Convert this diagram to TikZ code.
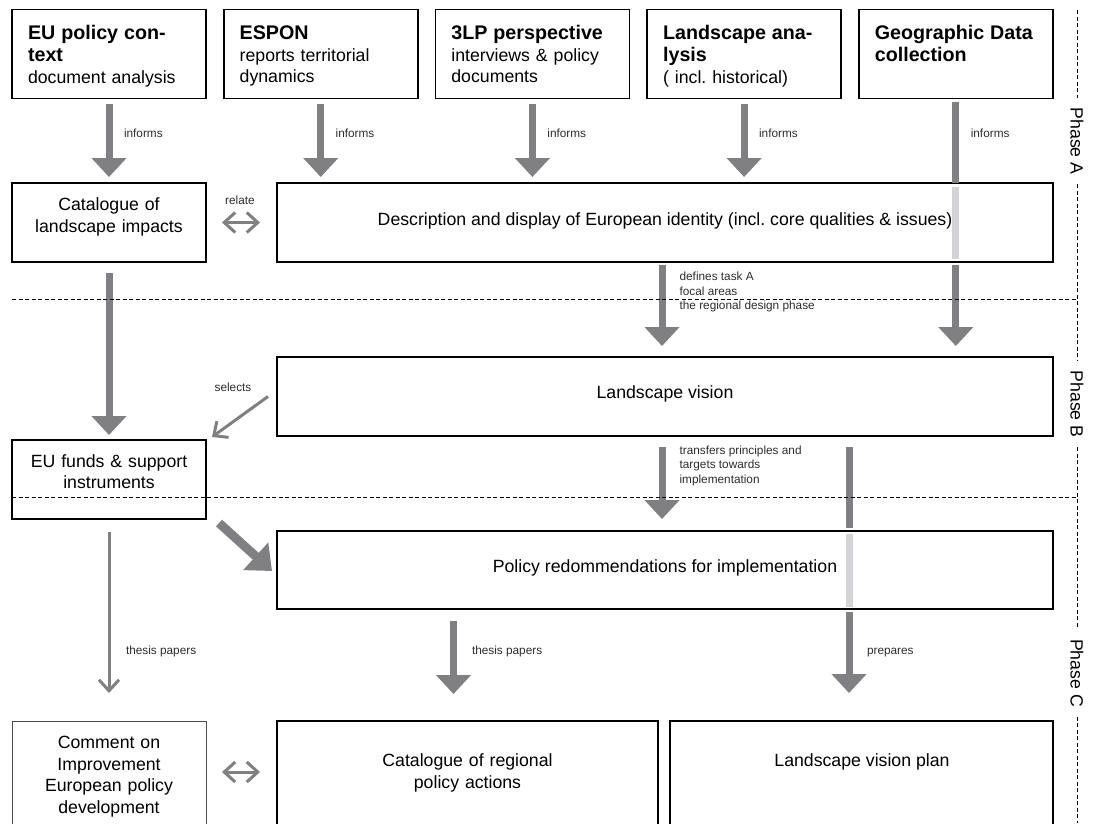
\documentclass[tikz,border=0pt]{standalone}
\usepackage{fontspec}
\setmainfont{Liberation Sans}
\usetikzlibrary{arrows.meta,calc}
\definecolor{arrowgray}{RGB}{128,128,131}
\definecolor{lightbar}{RGB}{212,212,214}
\definecolor{lblcol}{RGB}{45,45,45}
\newcommand\ttlfont{\fontsize{19.7pt}{22pt}\selectfont\bfseries}
\newcommand\bodyfont{\fontsize{17.7pt}{21.5pt}\selectfont\mdseries}
\newcommand\lblfont{\fontsize{11.8pt}{14.4pt}\selectfont}
\begin{document}
\begin{tikzpicture}[x=1pt,y=-1pt,
  every node/.style={inner sep=0pt, outer sep=0pt},
  topbox/.style={draw=black, line width=1.8pt, fill=white, anchor=north west, minimum width=194pt, minimum height=89pt},
  midbox/.style={draw=black, line width=1.5pt, fill=white, anchor=north west, minimum height=79pt},
  combox/.style={draw=black!70, line width=1pt, fill=white, anchor=north west, minimum height=110pt},
  endbox/.style={draw=black, line width=2.6pt, fill=white, anchor=north west, minimum height=110pt},
  toptext/.style={anchor=base west, text width=182pt, align=left, font=\bodyfont},
  ctext/.style={anchor=base, text width=190pt, align=center, font=\bodyfont},
  wtext/.style={anchor=base, align=center, font=\bodyfont},
  lbl/.style={font=\lblfont, text=lblcol, align=left},
  bigarrow/.style={draw=arrowgray, line width=7pt, -{Triangle[width=34pt,length=19pt]}},
  bigbar/.style={draw=arrowgray, line width=7pt},
  diagarrow/.style={draw=arrowgray, line width=9pt, -{Triangle[width=36pt,length=22pt]}},
  thinarrow/.style={draw=arrowgray, line width=3pt, -{Straight Barb[width=20pt,length=11pt]}},
  dblarrow/.style={draw=arrowgray, line width=3pt, {Straight Barb[width=20pt,length=11pt]}-{Straight Barb[width=20pt,length=11pt]}},
  dashln/.style={draw=black, line width=0.9pt, dash pattern=on 4pt off 2.5pt},
  phase/.style={font=\bodyfont, rotate=-90, inner xsep=10pt, inner ysep=0pt}
]
\useasboundingbox (0,0) rectangle (1094,823);
\fill[white] (0,0) rectangle (1094,823);

% boxes
\node[topbox] (b1) at (12,9.5) {};
\node[topbox] (b2) at (223.7,9.5) {};
\node[topbox] (b3) at (435.4,9.5) {};
\node[topbox] (b4) at (647.1,9.5) {};
\node[topbox] (b5) at (858.8,9.5) {};
\node[midbox, minimum width=194pt] (cat) at (12,183) {};
\node[midbox, minimum width=776pt] (desc) at (277,183) {};
\node[midbox, minimum width=776pt] (lv) at (277,357) {};
\node[midbox, minimum width=194pt] (ef) at (12,440) {};
\node[midbox, minimum width=776pt, minimum height=78pt] (pol) at (277,531) {};
\node[combox, minimum width=194pt] (com) at (12,721) {};
\node[endbox, minimum width=381pt] (creg) at (277,721) {};
\node[endbox, minimum width=383pt] (plan) at (670,721) {};

% top box texts
\node[toptext] (t1) at ([shift={(16,30)}]b1.north west) {\ttlfont EU policy con-\\\ttlfont text\\\bodyfont document analysis};
\node[toptext] (t2) at ([shift={(16,30)}]b2.north west) {\ttlfont ESPON\\\bodyfont reports territorial\\dynamics};
\node[toptext] (t3) at ([shift={(16,30)}]b3.north west) {\ttlfont 3LP perspective\\\bodyfont interviews \& policy\\documents};
\node[toptext] (t4) at ([shift={(16,30)}]b4.north west) {\ttlfont Landscape ana-\\\ttlfont lysis\\\bodyfont ( incl.\ historical)};
\node[toptext] (t5) at ([shift={(16,30)}]b5.north west) {\ttlfont Geographic Data\\\ttlfont collection};

% other texts
\node[ctext] (tcat) at (109,210.5) {Catalogue of\\landscape impacts};
\node[wtext] (tdesc) at (665,225) {Description and display of European identity (incl.\ core qualities \& issues)};
\node[wtext] (tlv) at (665,398) {Landscape vision};
\node[ctext] (tef) at (109,467) {EU funds \& support\\instruments};
\node[wtext] (tpol) at (665,572) {Policy redommendations for implementation};
\node[ctext] (tcom) at (109,748.5) {Comment on\\Improvement\\European policy\\development};
\node[ctext] (tcreg) at (467.5,766.5) {Catalogue of regional\\policy actions};
\node[wtext] (tplan) at (862,766.5) {Landscape vision plan};

% arrows from top boxes
\draw[bigarrow, shorten <=5.5pt, shorten >=6pt] (b1.south) -- (cat.north);
\draw[bigarrow, shorten <=5.5pt, shorten >=6pt] (b2.south) -- (b2.south |- desc.north);
\draw[bigarrow, shorten <=5.5pt, shorten >=6pt] (b3.south) -- (b3.south |- desc.north);
\draw[bigarrow, shorten <=5.5pt, shorten >=6pt] (b4.south) -- (b4.south |- desc.north);
\draw[bigbar, shorten <=3.5pt] (b5.south) -- (b5.south |- desc.north);
\coordinate (g1) at (b5.south |- desc.north);
\coordinate (g2) at (b5.south |- desc.south);
\fill[lightbar] ([shift={(-3.5,4)}]g1) rectangle ([shift={(3.5,-3)}]g2);
\draw[bigarrow, shorten <=3pt, shorten >=11pt] (g2) -- (b5.south |- lv.north);

% labels informs
\node[lbl, anchor=base west] (i1) at (124,137) {informs};
\node[lbl, anchor=base west] (i2) at (335.7,137) {informs};
\node[lbl, anchor=base west] (i3) at (547.4,137) {informs};
\node[lbl, anchor=base west] (i4) at (759.1,137) {informs};
\node[lbl, anchor=base west] (i5) at (970.8,137) {informs};

% relate
\draw[dblarrow, shorten <=16pt, shorten >=17pt] (cat.east) -- (desc.west);
\node[lbl, anchor=base] (lrel) at (240,204) {relate};

% catalogue -> EU funds
\draw[bigarrow, shorten <=11pt, shorten >=5pt] (cat.south) -- (ef.north);

% description -> landscape vision
\draw[bigarrow, shorten <=3pt, shorten >=11pt] ([xshift=-3pt]desc.south) -- ([xshift=-3pt]lv.north);
\node[lbl, anchor=base west] (ldef) at (679.6,309.6) {defines task A\\focal areas\\the regional design phase};

% selects
\draw[thinarrow] ([shift={(-9,0)}]lv.west) -- ([shift={(6,-3)}]ef.north east);
\node[lbl, anchor=base] (lsel) at (233,391) {selects};

% landscape vision -> policy
\draw[bigarrow, shorten <=11pt, shorten >=12pt] ([xshift=-3pt]lv.south) -- ([xshift=-3pt]pol.north);
\node[lbl, anchor=base west] (ltra) at (679.6,483.1) {transfers principles and\\targets towards\\implementation};

% prepares
\coordinate (px) at (849,0);
\draw[bigbar, shorten <=11pt, shorten >=3pt] (lv.south -| px) -- (pol.north -| px);
\coordinate (h1a) at (pol.north -| px);
\coordinate (h1b) at (pol.south -| px);
\fill[lightbar] ([shift={(-3.5,3)}]h1a) rectangle ([shift={(3.5,-2)}]h1b);
\draw[bigarrow, shorten <=3pt, shorten >=28pt] (h1b) -- (plan.north -| px);
\node[lbl, anchor=base west] (lprep) at (867,654.3) {prepares};

% EU funds -> policy
\draw[diagarrow] ([shift={(13,4)}]ef.south east) -- ([shift={(-5,1)}]pol.west);

% EU funds -> comment
\draw[thinarrow, shorten <=13pt, shorten >=28pt] (ef.south) -- (com.north);
\node[lbl, anchor=base west] (lth1) at (126,654.3) {thesis papers};

% policy -> catalogue regional
\coordinate (qx) at (453.5,0);
\draw[bigarrow, shorten <=12pt, shorten >=27pt] (pol.south -| qx) -- (creg.north -| qx);
\node[lbl, anchor=base west] (lth2) at (472,654.3) {thesis papers};

% comment <-> catalogue regional
\draw[dblarrow, shorten <=16pt, shorten >=17pt] ([shift={(0,-4)}]com.east) -- ([shift={(0,-4)}]creg.west);

% phase lines
\coordinate (vt) at (1077,10);
\coordinate (vb) at (1077,823);
\node[phase] (pA) at (1077,141) {Phase A};
\node[phase] (pB) at (1077,404) {Phase B};
\node[phase] (pC) at (1077,673) {Phase C};
\draw[dashln] (vt) -- (pA.west);
\draw[dashln] (pA.east) -- (pB.west);
\draw[dashln] (pB.east) -- (pC.west);
\draw[dashln] (pC.east) -- (vb);
\coordinate (hl1) at (12,299);
\coordinate (hl2) at (12,497);
\draw[dashln] (hl1) -- (hl1 -| vt);
\draw[dashln] (hl2) -- (hl2 -| vt);
\end{tikzpicture}
\end{document}
